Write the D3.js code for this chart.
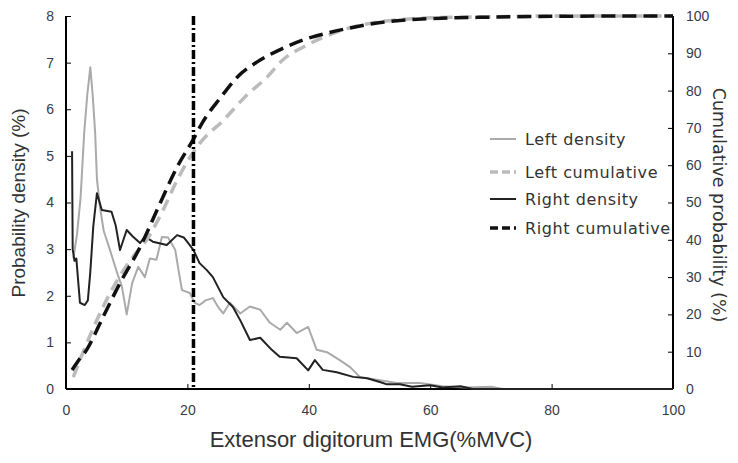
<!DOCTYPE html>
<html>
<head>
<meta charset="utf-8">
<script src="https://cdn.jsdelivr.net/npm/d3@7"></script>
<style>
  body { margin: 0; background: #fff; }
  svg text { font-family: "Liberation Sans", Arial, sans-serif; fill: #333; }
</style>
</head>
<body>
<svg width="738" height="463"></svg>
<script>
// Data: [EMG %MVC, value]
const leftDensity = [[1.2,2.8],[1.8,3.3],[2.4,4.1],[3.0,5.5],[3.5,6.3],[4,6.9],[4.4,6.3],[4.8,5.5],[5.1,4.5],[5.6,3.9],[6.2,3.4],[7.2,3.0],[8.4,2.5],[9.2,2.2],[10,1.6],[10.9,2.27],[11.9,2.62],[13,2.4],[13.8,2.8],[14.9,2.77],[15.8,3.26],[16.8,3.25],[17.5,3.1],[18,2.98],[18.6,2.5],[19.1,2.12],[20.4,2.06],[21.2,1.85],[22,1.8],[23,1.9],[24.2,1.95],[25.1,1.75],[25.9,1.62],[27,1.85],[28.7,1.62],[30.3,1.77],[32,1.7],[33.6,1.42],[35.3,1.27],[36.4,1.42],[38,1.2],[39.9,1.33],[41.3,0.84],[43,0.79],[45.1,0.62],[46.8,0.47],[48.4,0.26],[51.7,0.19],[54.5,0.13],[58.3,0.13],[62,0.06],[66,0.03],[70,0.05],[72,0],[100,0]];
const rightDensity = [[1,5.1],[1.1,3.0],[1.4,2.75],[1.7,2.8],[2.3,1.85],[3.1,1.8],[3.6,1.9],[4,2.5],[4.5,3.5],[5.1,4.2],[5.9,3.84],[7.5,3.8],[8.2,3.5],[8.9,2.98],[10,3.41],[11,3.27],[12.2,3.13],[13,3.27],[14.3,3.16],[16.6,3.09],[18.3,3.3],[19.4,3.25],[20.3,3.1],[21,2.98],[22,2.7],[23.2,2.55],[24.2,2.4],[25.9,1.97],[27.5,1.76],[28.8,1.45],[30.3,1.05],[32,1.1],[33.9,0.84],[35.2,0.69],[38,0.66],[39.9,0.4],[41,0.62],[42.3,0.41],[44.6,0.36],[47.3,0.26],[49.6,0.23],[51.7,0.15],[52.9,0.1],[55,0.1],[57,0.05],[60,0.08],[62,0.03],[65,0.06],[67,0],[100,0]];
const leftCumulative = [[1.2,3.2],[3.1,11],[6.1,22],[8.4,29],[11,35.4],[13.3,40],[16,48],[18,55],[20,61],[22.1,66],[25.9,72],[29.8,78.8],[33.1,83.6],[35.7,88.2],[39.1,91.7],[42,94],[46,96.5],[50,98],[55,99],[60,99.5],[70,99.8],[80,100],[100,100]];
const rightCumulative = [[1,5.1],[2,7.5],[3.4,10.5],[6.1,19.3],[8.9,28.4],[12.2,38],[15.5,49.8],[18.3,59.5],[21,67],[22.5,71.5],[25.4,78],[28.2,83.6],[31.5,87.7],[35.3,91],[39.1,93.6],[43,95.4],[46.8,96.8],[51.2,98.1],[55,98.8],[60,99.3],[70,99.7],[80,99.9],[90,100],[100,100]];
const threshold = 21;
const xTicks = [0, 20, 40, 60, 80, 100];
const densityTicks = [0, 1, 2, 3, 4, 5, 6, 7, 8];
const cumulativeTicks = [0, 10, 20, 30, 40, 50, 60, 70, 80, 90, 100];
const legendLabels = ["Left density", "Left cumulative", "Right density", "Right cumulative"];

const svg = d3.select("svg");
const plotLeft = 66, plotRight = 673, plotTop = 16, plotBottom = 389;

const x = d3.scaleLinear().domain([0, 100]).range([plotLeft, plotRight]);
const yDen = d3.scaleLinear().domain([0, 8]).range([plotBottom, plotTop]);
const yCum = d3.scaleLinear().domain([0, 100]).range([plotBottom, plotTop]);

// series styles
const styles = {
  "Left density": { color: "#aaa", width: 2, dash: null },
  "Left cumulative": { color: "#bbb", width: 3.5, dash: "12,7" },
  "Right density": { color: "#222", width: 2, dash: null },
  "Right cumulative": { color: "#111", width: 3.5, dash: "14,7" }
};

// Axes
const fmt = d3.format("d");
svg.append("g")
    .attr("transform", `translate(0,${plotBottom})`)
    .call(d3.axisBottom(x).tickValues(xTicks).tickSize(-5).tickPadding(16).tickFormat(fmt))
    .call(g => g.select(".domain").attr("stroke-width", 2).attr("d", `M${plotLeft},0H${plotRight}`));

svg.append("g")
    .attr("transform", `translate(${plotLeft},0)`)
    .call(d3.axisLeft(yDen).tickValues(densityTicks).tickSize(-5).tickPadding(12).tickFormat(fmt))
    .call(g => g.select(".domain").attr("stroke-width", 2).attr("d", `M0,${plotBottom}V${plotTop}`));

svg.append("g")
    .attr("transform", `translate(${plotRight},0)`)
    .call(d3.axisRight(yCum).tickValues(cumulativeTicks).tickSize(-5).tickPadding(13).tickFormat(fmt))
    .call(g => g.select(".domain").attr("stroke-width", 2).attr("d", `M0,${plotBottom}V${plotTop}`));

svg.selectAll(".tick text").attr("font-size", 14).style("fill", "#3a3a48");

// Axis titles
svg.append("text")
    .attr("x", 371).attr("y", 447)
    .attr("text-anchor", "middle")
    .attr("font-size", 22)
    .text("Extensor digitorum EMG(%MVC)");

svg.append("text")
    .attr("transform", `translate(25,203) rotate(-90)`)
    .attr("text-anchor", "middle")
    .attr("font-size", 19)
    .text("Probability density (%)");

svg.append("text")
    .attr("transform", `translate(713,205) rotate(90)`)
    .attr("text-anchor", "middle")
    .style("font-family", "'DejaVu Sans'")
    .attr("font-size", 17.5)
    .text("Cumulative probability (%)");

// Lines
const denLine = d3.line().x(d => x(d[0])).y(d => yDen(d[1]));
const cumLine = d3.line().x(d => x(d[0])).y(d => yCum(d[1])).curve(d3.curveMonotoneX);

const series = [
  { name: "Left density", data: leftDensity, gen: denLine },
  { name: "Right density", data: rightDensity, gen: denLine },
  { name: "Left cumulative", data: leftCumulative, gen: cumLine },
  { name: "Right cumulative", data: rightCumulative, gen: cumLine }
];

svg.append("g").selectAll("path")
  .data(series)
  .join("path")
    .attr("d", d => d.gen(d.data))
    .attr("fill", "none")
    .attr("stroke", d => styles[d.name].color)
    .attr("stroke-width", d => styles[d.name].width)
    .attr("stroke-dasharray", d => styles[d.name].dash)
    .attr("stroke-linejoin", "round");

// Threshold line (dash-dot)
svg.append("line")
    .attr("x1", x(threshold)).attr("x2", x(threshold))
    .attr("y1", plotTop).attr("y2", plotBottom)
    .attr("stroke", "#000")
    .attr("stroke-width", 3.5)
    .attr("stroke-dasharray", "9,3,2,3");

// Legend
const legendY = [139, 172, 199, 228];
const legend = svg.append("g").selectAll("g")
  .data(legendLabels)
  .join("g")
    .attr("transform", (d, i) => `translate(490,${legendY[i]})`);

legend.append("line")
    .attr("x1", 0).attr("x2", 26)
    .attr("stroke", d => styles[d].color)
    .attr("stroke-width", d => styles[d].width)
    .attr("stroke-dasharray", d => styles[d].dash ? "8,4" : null);

legend.append("text")
    .attr("x", 35).attr("y", 6)
    .style("font-family", "'DejaVu Sans'")
    .style("letter-spacing", "0.6px")
    .attr("font-size", 16)
    .text(d => d);
</script>
</body>
</html>
